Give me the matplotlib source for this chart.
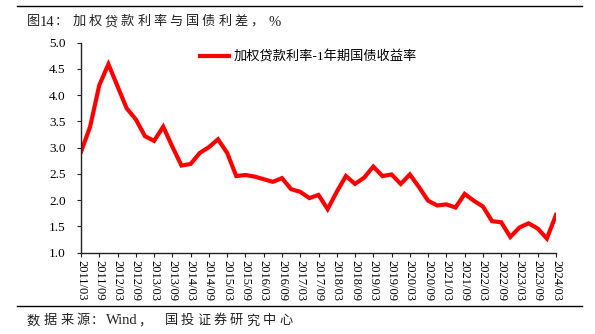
import matplotlib.pyplot as plt
from matplotlib.lines import Line2D

plt.rcParams['font.family'] = ['Liberation Serif', 'Noto Sans CJK SC']

# quarterly spread, 2011Q1 .. 2024Q1
quarters = ['%d/%02d' % (y, m) for y in range(2011, 2025) for m in (3, 6, 9, 12)][:53]
spread = [2.92, 3.40, 4.19, 4.59, 4.17, 3.75, 3.54, 3.22, 3.13, 3.40,
          3.02, 2.66, 2.69, 2.90, 3.01, 3.16, 2.90, 2.46, 2.48, 2.45,
          2.40, 2.35, 2.42, 2.21, 2.16, 2.04, 2.10, 1.83, 2.16, 2.46,
          2.31, 2.43, 2.64, 2.46, 2.49, 2.31, 2.49, 2.25, 1.99, 1.90,
          1.92, 1.86, 2.12, 1.99, 1.88, 1.60, 1.58, 1.30, 1.48, 1.56,
          1.46, 1.27, 1.72]
series_name = '加权贷款利率-1年期国债收益率'
yticks = [1.0, 1.5, 2.0, 2.5, 3.0, 3.5, 4.0, 4.5, 5.0]

W, H = 595, 334
fig = plt.figure(figsize=(W / 100, H / 100), dpi=100)
ax = fig.add_axes([81 / W, 1 - 252.7 / H, 475 / W, 210 / H])

x = list(range(len(spread)))
ax.plot(x, spread, color='#ff0000', lw=3.0, solid_joinstyle='miter')

ax.set_xlim(0, len(spread) - 1)
ax.set_ylim(1.0, 5.0)
ax.set_yticks(yticks)
ax.set_yticklabels(['%.1f' % v for v in yticks], fontsize=9.5)
ax.set_xticks(x[::2])
ax.set_xticklabels(quarters[::2], rotation=270, fontsize=9, va='top', ha='center')
ax.tick_params(axis='both', direction='out', length=3, width=0.8, color='#222222', pad=2)
ax.tick_params(axis='y', pad=8)
for s in ('top', 'right'):
    ax.spines[s].set_visible(False)
for s in ('left', 'bottom'):
    ax.spines[s].set_color('#222222')
    ax.spines[s].set_linewidth(1.0)

handle = Line2D([], [], color='#ff0000', lw=3.0)
ax.legend([handle], [series_name], loc='upper left', bbox_to_anchor=(0.225, 1.02),
          frameon=False, handlelength=2.2, handletextpad=0.35,
          prop={'family': ['Liberation Serif', 'Noto Sans CJK SC'], 'size': 9.5})

# header and footer rules
fig.add_artist(Line2D([17 / W, 582 / W], [1 - 6 / H, 1 - 6 / H], color='black', lw=1.0))
fig.add_artist(Line2D([17 / W, 582 / W], [1 - 305.5 / H, 1 - 305.5 / H], color='black', lw=1.0))


def spaced_text(pieces, y):
    # draw text piece by piece, centred at pixel x positions (wide letter spacing)
    for s, px in pieces:
        size = 10.5 if s.isascii() else 9.5
        fig.text(px / W, 1 - y / H, s, fontsize=size, va='center', ha='center', color='#222222')


title = [('图', 33.5), ('14', 47.5), ('：', 61.5)]
title += [(c, 79 + 16.2 * i) for i, c in enumerate('加权贷款利率与国债利差，')]
title += [('%', 275)]
spaced_text(title, 22)

source = [(c, 33.5 + 16.7 * i) for i, c in enumerate('数据来源')]
source += [('：', 97.5), ('Wind', 122), ('，', 145)]
source += [(c, 171 + 16.4 * i) for i, c in enumerate('国投证券研究中心')]
spaced_text(source, 321)

fig.savefig('out.png', dpi=100)
